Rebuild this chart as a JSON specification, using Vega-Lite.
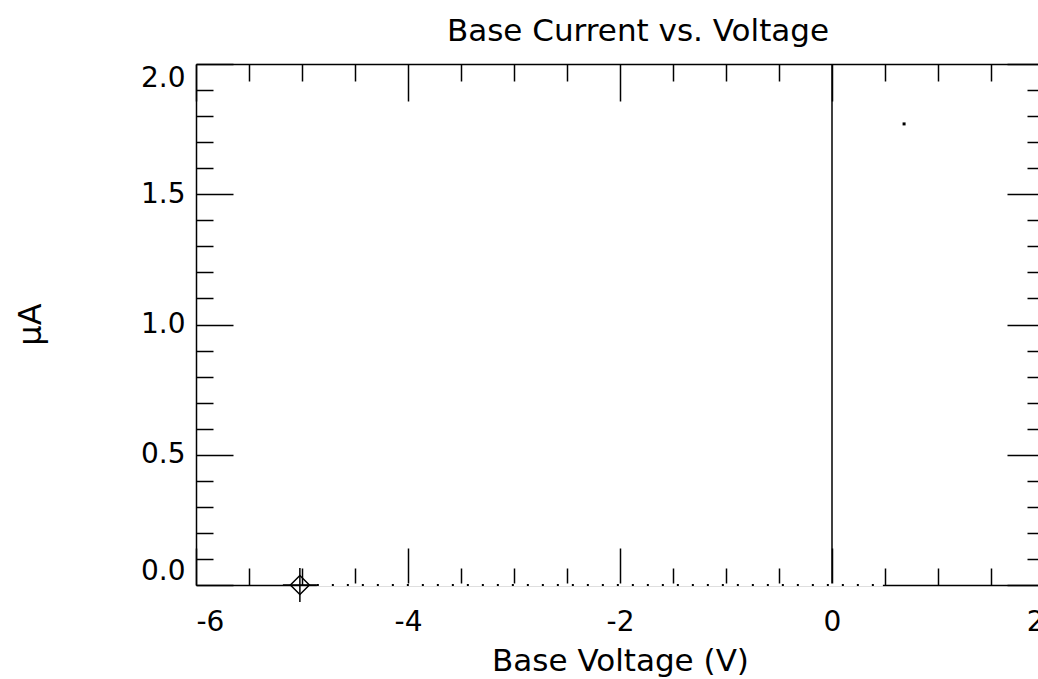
{
  "$schema": "https://vega.github.io/schema/vega-lite/v6.json",
  "width": 848,
  "height": 521,
  "autosize": {"type": "none"},
  "padding": {"left": 196, "top": 64, "right": 0, "bottom": 94},
  "background": "white",
  "config": {
    "view": {"stroke": null},
    "font": "DejaVu Sans",
    "axis": {
      "grid": false,
      "domainColor": "black",
      "tickColor": "black",
      "labelColor": "black",
      "titleColor": "black",
      "domainWidth": 1.5,
      "tickWidth": 1.5,
      "labelFont": "DejaVu Sans",
      "labelFontSize": 28,
      "titleFont": "DejaVu Sans",
      "titleFontSize": 31,
      "titleFontWeight": "normal"
    }
  },
  "title": {
    "text": "Base Current vs. Voltage",
    "font": "DejaVu Sans",
    "fontSize": 31,
    "fontWeight": "normal",
    "color": "black",
    "anchor": "middle",
    "dx": 18,
    "dy": 31,
    "baseline": "alphabetic",
    "offset": 22
  },
  "datasets": {
    "zero": [{"v": 0}],
    "segment": [{"v": -4.86, "i": 0}, {"v": 0.48, "i": 0}],
    "marker": [{"v": -5.02, "i": 0}],
    "dot": [{"v": 0.68, "i": 1.77}]
  },
  "resolve": {"axis": {"x": "independent", "y": "independent"}},
  "layer": [
    {
      "data": {"name": "marker"},
      "mark": {"type": "point", "opacity": 0},
      "encoding": {
        "x": {"field": "v", "type": "quantitative", "scale": {"domain": [-6, 2], "nice": false, "zero": false},
          "axis": {"orient": "bottom", "values": [-6, -4, -2, 0, 2], "tickSize": -37, "labelPadding": 60, "labelFlush": true, "labelExpr": "'' + datum.value", "title": "Base Voltage (V)", "titleY": 85, "titleBaseline": "alphabetic"}},
        "y": {"field": "i", "type": "quantitative", "scale": {"domain": [0, 2], "nice": false, "zero": false},
          "axis": {"orient": "left", "values": [0, 0.5, 1, 1.5, 2], "format": ".1f", "tickSize": -37, "labelPadding": 48, "labelFlush": true, "title": "μA", "titleFontSize": 32, "titleX": -166, "titleY": 260, "titleAngle": -90, "titleBaseline": "middle", "titleAlign": "center"}}
      }
    },
    {
      "data": {"name": "marker"},
      "mark": {"type": "point", "opacity": 0},
      "encoding": {
        "x": {"field": "v", "type": "quantitative", "scale": {"domain": [-6, 2], "nice": false, "zero": false},
          "axis": {"orient": "bottom", "values": [-5.5, -5, -4.5, -3.5, -3, -2.5, -1.5, -1, -0.5, 0.5, 1, 1.5], "tickSize": -17, "labels": false, "domain": false, "title": null}},
        "y": {"field": "i", "type": "quantitative", "scale": {"domain": [0, 2], "nice": false, "zero": false},
          "axis": {"orient": "left", "values": [0.1, 0.2, 0.3, 0.4, 0.6, 0.7, 0.8, 0.9, 1.1, 1.2, 1.3, 1.4, 1.6, 1.7, 1.8, 1.9], "tickSize": -17, "labels": false, "domain": false, "title": null}}
      }
    },
    {
      "data": {"name": "marker"},
      "mark": {"type": "point", "opacity": 0},
      "encoding": {
        "x": {"field": "v", "type": "quantitative", "scale": {"domain": [-6, 2], "nice": false, "zero": false},
          "axis": {"orient": "top", "values": [-6, -4, -2, 0, 2], "tickSize": -37, "labels": false, "title": null}},
        "y": {"field": "i", "type": "quantitative", "scale": {"domain": [0, 2], "nice": false, "zero": false},
          "axis": {"orient": "right", "values": [0, 0.5, 1, 1.5, 2], "tickSize": -37, "labels": false, "title": null}}
      }
    },
    {
      "data": {"name": "marker"},
      "mark": {"type": "point", "opacity": 0},
      "encoding": {
        "x": {"field": "v", "type": "quantitative", "scale": {"domain": [-6, 2], "nice": false, "zero": false},
          "axis": {"orient": "top", "values": [-5.5, -5, -4.5, -3.5, -3, -2.5, -1.5, -1, -0.5, 0.5, 1, 1.5], "tickSize": -17, "labels": false, "domain": false, "title": null}},
        "y": {"field": "i", "type": "quantitative", "scale": {"domain": [0, 2], "nice": false, "zero": false},
          "axis": {"orient": "right", "values": [0.1, 0.2, 0.3, 0.4, 0.6, 0.7, 0.8, 0.9, 1.1, 1.2, 1.3, 1.4, 1.6, 1.7, 1.8, 1.9], "tickSize": -17, "labels": false, "domain": false, "title": null}}
      }
    },
    {
      "data": {"name": "zero"},
      "mark": {"type": "rule", "color": "black", "strokeWidth": 1.5},
      "encoding": {
        "x": {"field": "v", "type": "quantitative", "scale": {"domain": [-6, 2], "nice": false, "zero": false}, "axis": null}
      }
    },
    {
      "data": {"name": "segment"},
      "mark": {"type": "line", "color": "white", "strokeWidth": 3},
      "encoding": {
        "x": {"field": "v", "type": "quantitative", "scale": {"domain": [-6, 2], "nice": false, "zero": false}, "axis": null},
        "y": {"field": "i", "type": "quantitative", "scale": {"domain": [0, 2], "nice": false, "zero": false}, "axis": null}
      }
    },
    {
      "data": {"name": "segment"},
      "mark": {"type": "line", "color": "black", "strokeWidth": 2, "strokeDash": [2, 13]},
      "encoding": {
        "x": {"field": "v", "type": "quantitative", "scale": {"domain": [-6, 2], "nice": false, "zero": false}, "axis": null},
        "y": {"field": "i", "type": "quantitative", "scale": {"domain": [0, 2], "nice": false, "zero": false}, "axis": null}
      }
    },
    {
      "data": {"name": "marker"},
      "mark": {"type": "point", "shape": "diamond", "size": 361, "filled": false, "color": "black", "strokeWidth": 1.5, "opacity": 1},
      "encoding": {
        "x": {"field": "v", "type": "quantitative", "scale": {"domain": [-6, 2], "nice": false, "zero": false}, "axis": null},
        "y": {"field": "i", "type": "quantitative", "scale": {"domain": [0, 2], "nice": false, "zero": false}, "axis": null}
      }
    },
    {
      "data": {"name": "marker"},
      "mark": {"type": "point", "shape": "M-1,0H1M0,-1V1", "size": 1156, "filled": false, "color": "black", "strokeWidth": 1.5, "opacity": 1},
      "encoding": {
        "x": {"field": "v", "type": "quantitative", "scale": {"domain": [-6, 2], "nice": false, "zero": false}, "axis": null},
        "y": {"field": "i", "type": "quantitative", "scale": {"domain": [0, 2], "nice": false, "zero": false}, "axis": null}
      }
    },
    {
      "data": {"name": "dot"},
      "mark": {"type": "point", "shape": "square", "size": 9, "filled": true, "color": "black", "opacity": 1},
      "encoding": {
        "x": {"field": "v", "type": "quantitative", "scale": {"domain": [-6, 2], "nice": false, "zero": false}, "axis": null},
        "y": {"field": "i", "type": "quantitative", "scale": {"domain": [0, 2], "nice": false, "zero": false}, "axis": null}
      }
    }
  ]
}
